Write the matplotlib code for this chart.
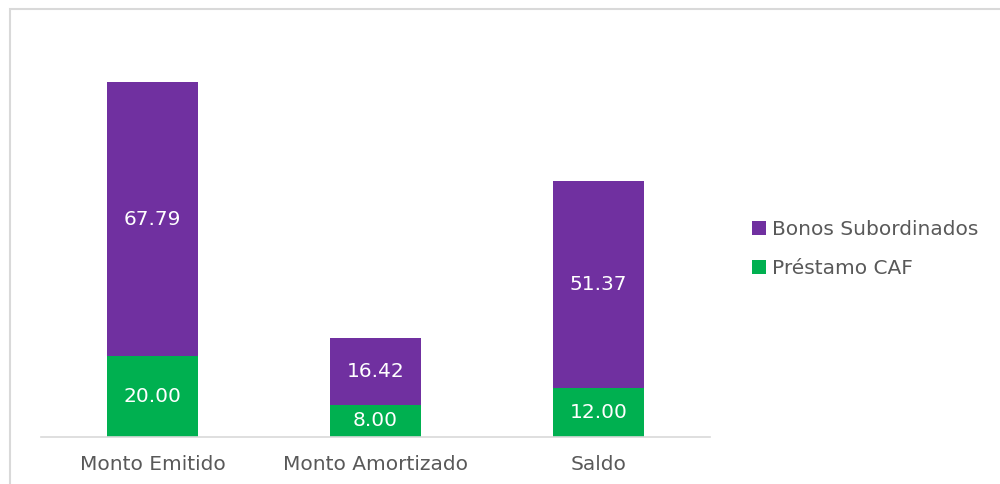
import matplotlib
matplotlib.use("Agg")
import matplotlib.pyplot as plt
from matplotlib.patches import Rectangle

categories = ["Monto Emitido", "Monto Amortizado", "Saldo"]
prestamo_caf = [20.00, 8.00, 12.00]
bonos_sub = [67.79, 16.42, 51.37]
series_names = ["Bonos Subordinados", "Préstamo CAF"]

PURPLE = "#7030A0"
GREEN = "#00B050"
GRAY_TXT = "#595959"
FS = 14.5

plt.rcParams['font.family'] = ['DejaVu Sans']

W, H = 1000, 484
fig = plt.figure(figsize=(W/100, H/100), dpi=100)
fig.patch.set_facecolor("white")

# outer chart frame
fig.patches.append(Rectangle((10/W, -0.05), 1.2, (H - 9)/H + 0.05, transform=fig.transFigure,
                             fill=False, edgecolor="#D9D9D9", linewidth=1.5))

ax = fig.add_axes([41/W, 1 - 437/H, 669/W, (437 - 32.6)/H])
x = list(range(len(categories)))
width = 0.408
b1 = ax.bar(x, prestamo_caf, width, color=GREEN, label=series_names[1])
b2 = ax.bar(x, bonos_sub, width, bottom=prestamo_caf, color=PURPLE, label=series_names[0])

for i in x:
    ax.text(i, prestamo_caf[i] / 2, f"{prestamo_caf[i]:.2f}", ha="center", va="center",
            color="white", fontsize=FS)
    ax.text(i, prestamo_caf[i] + bonos_sub[i] / 2, f"{bonos_sub[i]:.2f}", ha="center", va="center",
            color="white", fontsize=FS)

ax.set_xlim(-0.5, 2.5)
ax.set_ylim(0, 100)
ax.set_yticks([])
ax.set_xticks(x)
ax.set_xticklabels(categories, fontsize=FS, color=GRAY_TXT)
ax.tick_params(axis="x", length=0, pad=13)
for s in ["top", "right", "left"]:
    ax.spines[s].set_visible(False)
ax.spines["bottom"].set_color("#D9D9D9")
ax.spines["bottom"].set_linewidth(1.2)

leg = fig.legend(handles=[b2, b1], labels=series_names, loc="center left",
                 bbox_to_anchor=(748/W, 1 - 249/H), frameon=False, fontsize=FS,
                 handlelength=0.7, handleheight=0.7, handletextpad=0.3, labelspacing=1.0,
                 borderaxespad=0, borderpad=0.2)
for t in leg.get_texts():
    t.set_color(GRAY_TXT)

fig.savefig("out.png", dpi=100)
